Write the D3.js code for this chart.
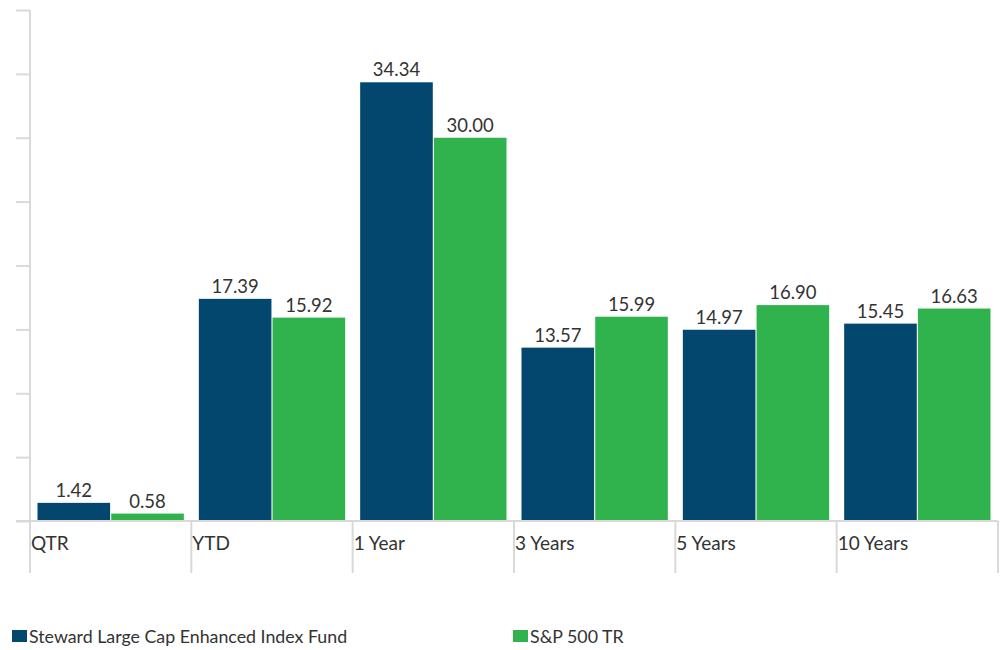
<!DOCTYPE html>
<html>
<head>
<meta charset="utf-8">
<script src="https://cdn.jsdelivr.net/npm/d3@7"></script>
<style>
  body { margin: 0; background: #fff; }
  svg text { font-family: Lato, "Open Sans", sans-serif; fill: #333; }
</style>
</head>
<body>
<div id="chart"></div>
<script>
// data
const categories = ["QTR", "YTD", "1 Year", "3 Years", "5 Years", "10 Years"];
const seriesNames = ["Steward Large Cap Enhanced Index Fund", "S&P 500 TR"];
const fundValues = [1.42, 17.39, 34.34, 13.57, 14.97, 15.45];
const indexValues = [0.58, 15.92, 30.00, 15.99, 16.90, 16.63];
const yTicks = [0, 5, 10, 15, 20, 25, 30, 35, 40];
const colors = ["#03466e", "#30b34d"];

const rows = categories.map((c, i) => ({
  cat: c,
  vals: [fundValues[i], indexValues[i]]
}));

const svgWidth = 1003, svgHeight = 650;
const plotLeft = 30, plotRight = 998, plotTop = 10, base = 521;

const svg = d3.select("#chart")
  .append("svg")
  .attr("width", svgWidth)
  .attr("height", svgHeight);

// scales
const x = d3.scaleBand()
  .domain(categories)
  .range([plotLeft, plotRight])
  .padding(0);

const x1 = d3.scaleBand()
  .domain([0, 1])
  .range([7.5, x.bandwidth() - 7.5])
  .paddingInner(0.015);

const y = d3.scaleLinear()
  .domain([0, 40])
  .range([base, plotTop]);

// y axis (line with ticks, no labels)
const yAxis = svg.append("g")
  .attr("transform", "translate(" + plotLeft + ",0)")
  .call(d3.axisLeft(y).tickValues(yTicks).tickSize(14).tickFormat(""));
yAxis.select(".domain").remove();
yAxis.selectAll("line").attr("stroke", "#d9d9d9").attr("stroke-width", 2);
svg.append("line")
  .attr("x1", plotLeft).attr("x2", plotLeft)
  .attr("y1", y(40)).attr("y2", base)
  .attr("stroke", "#d9d9d9").attr("stroke-width", 2);

// category separators below the baseline
const bounds = categories.map(c => x(c)).concat([plotRight]);
svg.selectAll(".sep")
  .data(bounds)
  .enter()
  .append("line")
  .attr("class", "sep")
  .attr("x1", d => d).attr("x2", d => d)
  .attr("y1", base).attr("y2", 573)
  .attr("stroke", "#d9d9d9").attr("stroke-width", 2);

// bars
const groups = svg.selectAll(".grp")
  .data(rows)
  .enter()
  .append("g")
  .attr("class", "grp")
  .attr("transform", d => "translate(" + x(d.cat) + ",0)");

groups.selectAll("rect")
  .data(d => d.vals.map((v, i) => ({ v: v, i: i })))
  .enter()
  .append("rect")
  .attr("x", d => x1(d.i))
  .attr("y", d => y(d.v))
  .attr("width", x1.bandwidth())
  .attr("height", d => base - y(d.v))
  .attr("fill", d => colors[d.i]);

groups.selectAll(".val")
  .data(d => d.vals.map((v, i) => ({ v: v, i: i })))
  .enter()
  .append("text")
  .attr("class", "val")
  .attr("x", d => x1(d.i) + x1.bandwidth() / 2)
  .attr("y", d => y(d.v) - 6)
  .attr("text-anchor", "middle")
  .style("font-size", "18.5px")
  .text(d => d.v.toFixed(2));

// baseline
svg.append("line")
  .attr("x1", 16).attr("x2", plotRight)
  .attr("y1", base).attr("y2", base)
  .attr("stroke", "#d9d9d9").attr("stroke-width", 2);

// category labels
svg.selectAll(".cat")
  .data(categories)
  .enter()
  .append("text")
  .attr("class", "cat")
  .attr("x", d => x(d) + 1)
  .attr("y", 550)
  .style("font-size", "19px")
  .text(d => d);

// legend
const legendX = [12, 513];
const legend = svg.selectAll(".leg")
  .data(seriesNames)
  .enter()
  .append("g")
  .attr("class", "leg")
  .attr("transform", (d, i) => "translate(" + legendX[i] + ",630)");
legend.append("rect")
  .attr("width", 15).attr("height", 12)
  .attr("fill", (d, i) => colors[i]);
legend.append("text")
  .attr("x", 17)
  .attr("y", 13)
  .style("font-size", "17.8px")
  .text(d => d);
</script>
</body>
</html>
